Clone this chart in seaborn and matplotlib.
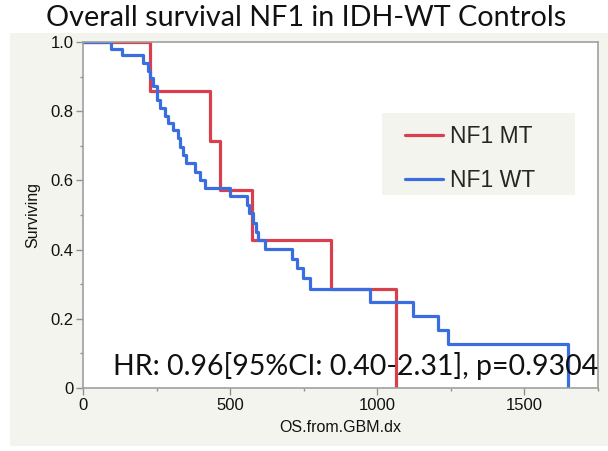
import matplotlib
matplotlib.use("Agg")
import matplotlib.pyplot as plt
from matplotlib.patches import Rectangle
from matplotlib.lines import Line2D
import seaborn as sns
import pandas as pd

# ---- data ----
mt_time = [0, 226, 432, 466, 573, 843, 1063]
mt_surv = [1.0, 0.857, 0.714, 0.571, 0.429, 0.286, 0.0]

wt_time = [0, 95, 132, 205, 222, 228, 239, 251, 262, 279, 290, 307, 324, 330,
           341, 350, 379, 398, 415, 500, 557, 565, 579, 588, 594, 619, 709,
           726, 749, 771, 975, 1122, 1207, 1241, 1649]
wt_surv = [1.0, 0.981, 0.962, 0.938, 0.917, 0.895, 0.874, 0.832, 0.808, 0.786,
           0.765, 0.745, 0.722, 0.697, 0.673, 0.649, 0.625, 0.601, 0.577,
           0.555, 0.529, 0.505, 0.477, 0.452, 0.428, 0.401, 0.372, 0.346,
           0.317, 0.287, 0.249, 0.208, 0.168, 0.126, 0.0]

groups = ["NF1 MT", "NF1 WT"]
colors = ["#d8404e", "#3a6ee0"]
x_ticks = [0, 500, 1000, 1500]
y_ticks = [0, 0.2, 0.4, 0.6, 0.8, 1.0]
y_ticklabels = ["0", "0.2", "0.4", "0.6", "0.8", "1.0"]
title = "Overall survival NF1 in IDH-WT Controls"
hr_text = "HR: 0.96[95%CI: 0.40-2.31], p=0.9304"
xlabel = "OS.from.GBM.dx"
ylabel = "Surviving"

df = pd.DataFrame({
    "time": mt_time + wt_time,
    "surv": mt_surv + wt_surv,
    "group": [groups[0]] * len(mt_time) + [groups[1]] * len(wt_time),
})

sns.set_theme(style="white")
plt.rcParams["font.family"] = ["Liberation Sans", "DejaVu Sans"]

W, H = 608, 451
fig = plt.figure(figsize=(W / 100, H / 100), dpi=100, facecolor="white")
PANEL = "#f4f4ef"
fig.patches.append(Rectangle((9.5 / W, 5 / H), 1 - 9.5 / W, (446 - 33) / H,
                             transform=fig.transFigure, facecolor=PANEL,
                             edgecolor="none", zorder=-5))

L, R, T, B = 83, 598, 42, 388
ax = fig.add_axes([L / W, 1 - B / H, (R - L) / W, (B - T) / H])
ax.set_facecolor("white")

sns.lineplot(data=df, x="time", y="surv", hue="group", hue_order=groups,
             palette=dict(zip(groups, colors)), drawstyle="steps-post",
             estimator=None, linewidth=2.3, ax=ax, legend=False)

ax.set_xlim(0, 1750)
ax.set_ylim(0, 1.0)
ax.set_xticks(x_ticks)
ax.set_xticklabels([str(v) for v in x_ticks])
ax.set_xticks([250, 750, 1250, 1750], minor=True)
ax.set_yticks(y_ticks)
ax.set_yticklabels(y_ticklabels)
ax.set_yticks([0.1, 0.3, 0.5, 0.7, 0.9], minor=True)
ax.tick_params(axis="both", which="major", direction="out", length=5,
               width=1, color="#909090", labelsize=12, pad=2, labelcolor="#111111")
ax.tick_params(axis="both", which="minor", direction="out", length=2.5,
               width=1, color="#909090")
ax.tick_params(axis="x", which="both", bottom=True)
ax.tick_params(axis="y", which="both", left=True)
for s in ax.spines.values():
    s.set_color("#a0a0a0")
    s.set_linewidth(1.2)
ax.set_xlabel(xlabel, fontsize=11.5, color="#111111", labelpad=5)
ax.set_ylabel(ylabel, fontsize=11.5, color="#111111", labelpad=7)

# legend with its own panel
ax.add_patch(Rectangle((381.7 / W, 1 - 195 / H), (575 - 381.7) / W,
                       (195 - 113) / H, transform=fig.transFigure,
                       facecolor=PANEL, edgecolor="none", zorder=4))
handles = [Line2D([], [], color=c, linewidth=2.3) for c in colors]
leg = ax.legend(handles, groups, loc="upper left",
                bbox_to_anchor=(405 / W, 1 - 125 / H),
                bbox_transform=fig.transFigure, frameon=False, fontsize=16.5,
                handlelength=1.65, handletextpad=0.3, labelspacing=0.9,
                borderpad=0, borderaxespad=0)
leg.set_zorder(5)

# title and HR annotation
t = fig.text(306.6 / W, 1 - 25.5 / H, title, ha="center", va="baseline",
             fontsize=19, family=["Lato", "DejaVu Sans"], color="#111111")
hr = ax.text(112.7 / W, 1 - 375 / H, hr_text, transform=fig.transFigure,
             ha="left", va="baseline", fontsize=20,
             family=["Lato", "DejaVu Sans"], color="#111111", zorder=6,
             clip_on=False)

fig.canvas.draw()
for obj, target in [(t, 520), (hr, 484)]:
    w = obj.get_window_extent().width
    obj.set_fontsize(obj.get_fontsize() * target / w)

fig.savefig("out.png", dpi=100, facecolor="white")
